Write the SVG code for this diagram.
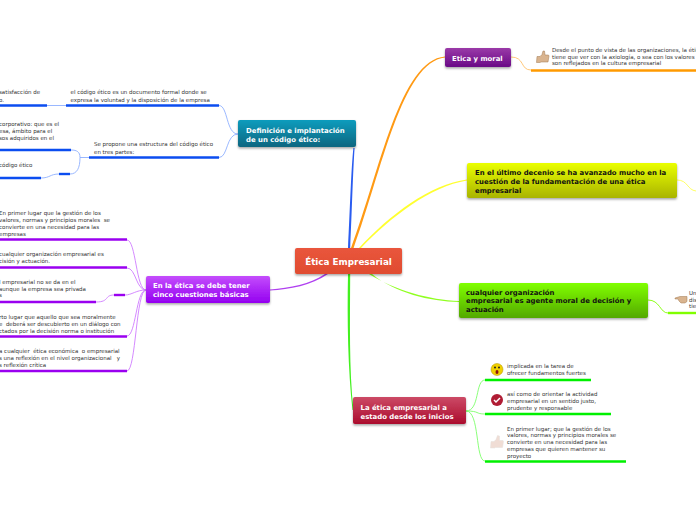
<svg xmlns="http://www.w3.org/2000/svg" width="696" height="520" viewBox="0 0 696 520">
<defs>
<linearGradient id="gRoot" x1="0" y1="0" x2="0" y2="1"><stop offset="0" stop-color="#e9553c"/><stop offset="1" stop-color="#e04c30"/></linearGradient>
<linearGradient id="gBlue" x1="0" y1="0" x2="0" y2="1"><stop offset="0" stop-color="#0f9cbd"/><stop offset="1" stop-color="#0a6680"/></linearGradient>
<linearGradient id="gViolet" x1="0" y1="0" x2="0" y2="1"><stop offset="0" stop-color="#9a3aa8"/><stop offset="1" stop-color="#6a0a86"/></linearGradient>
<linearGradient id="gYellow" x1="0" y1="0" x2="0" y2="1"><stop offset="0" stop-color="#eaff00"/><stop offset="1" stop-color="#a9b400"/></linearGradient>
<linearGradient id="gGreen" x1="0" y1="0" x2="0" y2="1"><stop offset="0" stop-color="#80ff00"/><stop offset="1" stop-color="#53a800"/></linearGradient>
<linearGradient id="gRed" x1="0" y1="0" x2="0" y2="1"><stop offset="0" stop-color="#cc4a66"/><stop offset="1" stop-color="#ab0c2e"/></linearGradient>
<linearGradient id="gPurple" x1="0" y1="0" x2="0" y2="1"><stop offset="0" stop-color="#c44dfc"/><stop offset="1" stop-color="#9400f0"/></linearGradient>
<filter id="sh" x="-10%" y="-20%" width="120%" height="150%"><feDropShadow dx="0" dy="1.5" stdDeviation="1" flood-color="#000" flood-opacity="0.35"/></filter>
</defs>
<style>
text{font-family:"DejaVu Sans",Verdana,sans-serif}
.n{font-size:6.9px;font-weight:700;fill:#fff}
.k{font-size:6.9px;font-weight:700;fill:#111}
.r{font-size:8.8px;font-weight:700;fill:#fff}
.d{font-size:5.5px;fill:#333;white-space:pre}
.box{filter:url(#sh)}
.c{fill:none;stroke-width:.9}
.t{fill:none;stroke-width:2.4}
.blue{stroke:#0b4df0}.lb{stroke:#8fb0ff}
.pur{stroke:#9a00f0}.lp{stroke:#cf7dff}
.gre{stroke:#00f000}.lg{stroke:#7dff6a}
.ora{stroke:#ff9a00}.lo{stroke:#ffc16a}
.ly{stroke:#ffff50}.lime{stroke:#80ff00}
</style>
<rect width="696" height="520" fill="#fff"/>
<g id="connectors">
<path d="M348 248C350 210 351 170 353.400 148L354.600 148C353 170 352 210 350.200 248Z" fill="#2a5cf0"/>
<path d="M351 248C380 170 400 60 445 56.500L445 57.500C402 62 382 170 353.600 248Z" fill="#ff9a14"/>
<path d="M359 248C390 214.500 430 184.500 467 179.500L467 180.500C430 186.500 391.500 216.500 361 248Z" fill="#ffff30"/>
<path d="M369 274C395 290.500 430 300 459 301L459 302C430 301.500 395 293 372 274Z" fill="#90ff20"/>
<path d="M348 274C347 320 348 370 352.500 410L353.500 410C349 370 350 320 350.200 274Z" fill="#44f020"/>
<path d="M325 274C310 284 290 288 270 289.500L270 290.500C290 289.500 311 285.500 328 274Z" fill="#b040f0"/>
<path class="c lb" d="M238 134C226 134 228 105.500 219 105.500"/>
<path class="c lb" d="M238 134C226 134 228 157.500 219 157.500"/>
<path class="c lb" d="M66 105.500H47"/>
<path class="c lb" d="M89 157.500H80C80 152 77 150 71 150"/>
<path class="c lb" d="M80 157.500C80 168 77 174 70 174"/>
<path class="c lb" d="M59 174C50 174 50 178 41 178"/>
<path class="t blue" d="M66 105.500H219"/>
<path class="t blue" d="M0 105.500H47"/>
<path class="t blue" d="M89 157.500H219"/>
<path class="t blue" d="M0 150H71"/>
<path class="t blue" d="M0 178H41"/>
<path class="t blue" d="M59 174H70"/>
<path class="c lp" d="M146 290C136 290 136 240 127 240"/>
<path class="c lp" d="M146 290C136 290 136 268 127 268"/>
<path class="c lp" d="M146 290C136 290 132 295 125 295"/>
<path class="c lp" d="M114 295C104 295 110 302 96 302"/>
<path class="c lp" d="M146 290C136 290 136 336 127 336"/>
<path class="c lp" d="M146 290C136 290 136 371 127 371"/>
<path class="t pur" d="M0 239.500H127"/>
<path class="t pur" d="M0 267.500H127"/>
<path class="t pur" d="M0 302H96"/>
<path class="t pur" d="M114 295H125"/>
<path class="t pur" d="M0 336.500H127"/>
<path class="t pur" d="M0 371H127"/>
<path class="c lo" d="M511 57C525 57 520 70 531 70"/>
<path class="t ora" d="M531 70.500H696"/>
<path class="c ly" d="M677 180C688 180 687 190 696 191"/>
<path class="c lime" d="M648 300C660 300 660 313 668 313"/>
<path d="M668 313H696" fill="none" stroke="#80ff00" stroke-width="2.4"/>
<path class="c lg" d="M466 411C480 411 475 380 485 380"/>
<path class="c lg" d="M466 411C480 411 475 414 485 414"/>
<path class="c lg" d="M466 411C480 411 475 461 485 461"/>
<path class="t gre" d="M485 380H591"/>
<path class="t gre" d="M485 414H611"/>
<path class="t gre" d="M485 461.500H626"/>
</g>
<g id="n-root"><rect class="box" x="295" y="248" width="107" height="26" rx="2" fill="url(#gRoot)"/><text class="r" x="348.500" y="264.500" text-anchor="middle">Ética Empresarial</text></g>
<g id="n-def"><rect class="box" x="238" y="120" width="118" height="27" rx="2" fill="url(#gBlue)"/><text class="n" x="246" y="133">Definición e implantación</text><text class="n" x="246" y="141.500">de un código ético:</text></g>
<g id="n-moral"><rect class="box" x="445" y="48" width="66" height="19" rx="2" fill="url(#gViolet)"/><text class="n" x="452" y="61">Etica y moral</text></g>
<g id="n-yellow"><rect class="box" x="467" y="163" width="210" height="35" rx="2" fill="url(#gYellow)"/><text class="k" x="475" y="175">En el último decenio se ha avanzado mucho en la</text><text class="k" x="475" y="184">cuestión de la fundamentación de una ética</text><text class="k" x="475" y="192.500">empresarial</text></g>
<g id="n-green"><rect class="box" x="459" y="283" width="189" height="35" rx="2" fill="url(#gGreen)"/><text class="k" x="466" y="295">cualquier organización</text><text class="k" x="466" y="303">empresarial es agente moral de decisión y</text><text class="k" x="466" y="312">actuación</text></g>
<g id="n-red"><rect class="box" x="353" y="397" width="113" height="27" rx="2" fill="url(#gRed)"/><text class="n" x="360.500" y="410">La ética empresarial a</text><text class="n" x="360.500" y="418.500">estado desde los inicios</text></g>
<g id="n-purple"><rect class="box" x="146" y="276" width="124" height="27" rx="2" fill="url(#gPurple)"/><text class="n" x="153" y="288">En la ética se debe tener</text><text class="n" x="153" y="297">cinco cuestiones básicas</text></g>
<g id="t-code"><text class="d" x="70.500" y="94">el código ético es un documento formal donde se</text><text class="d" x="70.500" y="101.500">expresa la voluntad y la disposición de la empresa</text></g>
<g id="t-sat"><text class="d" x="-1" y="94">satisfacción de</text><text class="d" x="-1" y="101.500">o.</text></g>
<g id="t-struct"><text class="d" x="94" y="146">Se propone una estructura del código ético</text><text class="d" x="94" y="153.500">en tres partes:</text></g>
<g id="t-corp"><text class="d" x="-1" y="126">corporativo: que es el</text><text class="d" x="-1" y="132.500">esa, ámbito para el</text><text class="d" x="-1" y="139.500">sos adquiridos en el</text></g>
<g id="t-cod2"><text class="d" x="-1" y="167">código ético</text></g>
<g id="t-p1"><text class="d" x="-1" y="215">En primer lugar que la gestión de los</text><text class="d" x="-1" y="222">valores, normas y principios morales  se</text><text class="d" x="-1" y="228.500">convierte en una necesidad para las</text><text class="d" x="-1" y="235.500">empresas</text></g>
<g id="t-p2"><text class="d" x="-1" y="256">cualquier organización empresarial es</text><text class="d" x="-1" y="263">cisión y actuación.</text></g>
<g id="t-p3"><text class="d" x="-1" y="284">l empresarial no se da en el</text><text class="d" x="-1" y="291">aunque la empresa sea privada</text><text class="d" x="-1" y="297">s</text></g>
<g id="t-p4"><text class="d" x="-1" y="319">rto lugar que aquello que sea moralmente</text><text class="d" x="-1" y="325.500">e  deberá ser descubierto en un diálogo con</text><text class="d" x="-1" y="332.500">ctados por la decisión norma o institución</text></g>
<g id="t-p5"><text class="d" x="-1" y="353">a cualquier  ética económica  o empresarial</text><text class="d" x="-1" y="360">s una reflexión en el nivel organizacional   y</text><text class="d" x="-1" y="366.500">s reflexión crítica</text></g>
<g id="t-moral"><path d="M537 56.500h3l2-2 1-3.500 1.500 0 .5 4h3.500l.5 1-1 6h-7l-1 .5h-3.500z" fill="#d9b48f" stroke="#a07850" stroke-width=".5"/><text class="d" x="552" y="51.500">Desde el punto de vista de las organizaciones, la ética</text><text class="d" x="552" y="58.500">tiene que ver con la axiología, o sea con los valores</text><text class="d" x="552" y="65">son reflejados en la cultura empresarial</text></g>
<g id="t-lime"><path d="M675 298l5-1.500h7v5l-2 1.500h-4l-2-2-1-2h-3z" fill="#d9b48f" stroke="#a07850" stroke-width=".5"/><text class="d" x="689" y="295">Un</text><text class="d" x="689" y="302">dis</text><text class="d" x="689" y="308">tie</text></g>
<g id="t-g1"><circle cx="497" cy="369.500" r="6" fill="#f0d000" stroke="#b09000" stroke-width=".5"/><circle cx="495" cy="367.500" r="1" fill="#222"/><circle cx="499" cy="367.500" r="1" fill="#222"/><ellipse cx="497" cy="372" rx="1.500" ry="2" fill="#8a1010"/><text class="d" x="507" y="368">implicada en la tarea de</text><text class="d" x="507" y="375">ofrecer fundamentos fuertes</text></g>
<g id="t-g2"><circle cx="497" cy="400" r="6" fill="#b01c34"/><path d="M494 400l2 2 4-4" fill="none" stroke="#fff" stroke-width="1.500"/><text class="d" x="507" y="396">así como de orientar la actividad</text><text class="d" x="507" y="403">empresarial en un sentido justo,</text><text class="d" x="507" y="409.500">prudente y responsable</text></g>
<g id="t-g3"><path d="M491 441.500h3l2-2 1.500-4 2 .5v4.500h3.500l.5 1-1 6h-7l-1 .5h-4z" fill="#f0ddd5" stroke="#e4e0dc" stroke-width=".5"/><text class="d" x="507" y="431">En primer lugar; que la gestión de los</text><text class="d" x="507" y="437">valores, normas y principios morales se</text><text class="d" x="507" y="444">convierte en una necesidad para las</text><text class="d" x="507" y="450.500">empresas que quieren mantener su</text><text class="d" x="507" y="457.500">proyecto</text></g>
</svg>
